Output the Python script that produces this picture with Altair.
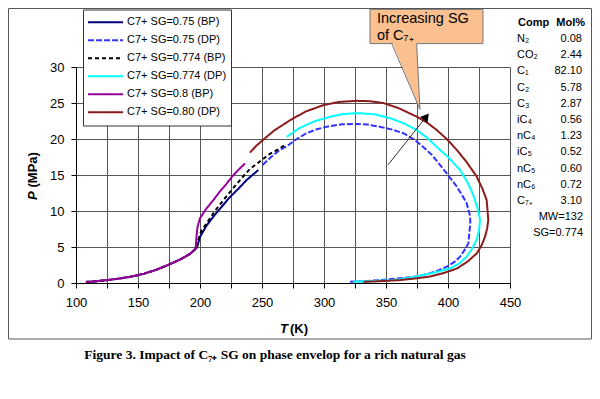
import altair as alt
import pandas as pd

FONT = "Liberation Sans"

# ---------------- data ----------------
series_names = ["C7+ SG=0.75 (BP)", "C7+ SG=0.75 (DP)", "C7+ SG=0.774 (BP)",
                "C7+ SG=0.774 (DP)", "C7+ SG=0.8 (BP)", "C7+ SG=0.80 (DP)"]
series_colors = ["#000080", "#3333FF", "#000000", "#00FFFF", "#990099", "#8C1C1C"]
series_dashes = [[1, 0], [6, 2], [4, 3], [1, 0], [1, 0], [1, 0]]

bp075_T = [108, 115, 125, 135, 145, 155, 165, 175, 185, 192, 197.5, 200, 205, 210.7, 217, 224, 231, 237.6, 243, 247]
bp075_P = [0.15, 0.22, 0.40, 0.62, 0.90, 1.30, 1.85, 2.55, 3.35, 4.05, 4.9, 6.4, 7.9, 9.2, 10.5, 11.9, 13.1, 14.3, 15.1, 15.7]

dp075_T = [250.5, 258, 264.5, 270, 278, 286, 295, 304.8, 315, 326.4, 335, 345, 355, 364, 372, 380, 387, 393.5, 400,
           407, 412, 415, 417.7, 418, 417.7, 416.4, 413, 409.7, 405, 399, 390, 380, 370, 361, 345, 335, 321]
dp075_P = [16.4, 17.6, 18.5, 19.0, 20.0, 20.8, 21.4, 21.8, 22.05, 22.1, 22.0, 21.7, 21.3, 20.8, 20.0, 18.9, 17.8, 16.4, 15.0,
           13.4, 12.0, 11.1, 9.4, 8.6, 7.8, 5.5, 4.5, 3.65, 2.9, 2.26, 1.6, 1.1, 0.8, 0.65, 0.4, 0.28, 0.18]

bp0774_T = [108, 115, 125, 135, 145, 155, 165, 175, 185, 192, 197.5, 198.6, 201, 205.4, 212, 218.8, 225, 232.3, 240, 248.4, 256, 264.5, 268.5]
bp0774_P = [0.15, 0.22, 0.40, 0.62, 0.90, 1.30, 1.85, 2.55, 3.35, 4.05, 4.9, 6.0, 7.2, 8.3, 10.0, 11.5, 12.8, 14.3, 15.8, 16.9, 17.9, 18.7, 19.2]

dp0774_T = [269.9, 280, 291.4, 305, 315, 326.4, 340, 353.2, 364, 374.8, 383, 390.9, 400, 409.7, 415, 419, 421.8, 424.5,
            425.8, 425, 423.1, 419.5, 415, 409, 401.6, 390, 380, 368, 355.9, 340, 323.6]
dp0774_P = [20.3, 21.5, 22.4, 23.1, 23.45, 23.6, 23.45, 22.9, 22.2, 21.25, 20.2, 18.9, 17.5, 15.7, 14.2, 12.8, 11.5, 10.0,
            8.75, 7.3, 6.0, 4.8, 3.65, 2.7, 2.0, 1.5, 1.1, 0.7, 0.4, 0.28, 0.18]

bp08_T = [108, 115, 125, 135, 145, 155, 165, 175, 185, 192, 196.5, 197.2, 198, 200, 205, 210.7, 216, 221.5, 226, 230.9, 236.3]
bp08_P = [0.15, 0.22, 0.40, 0.62, 0.90, 1.30, 1.85, 2.55, 3.35, 4.05, 4.8, 6.5, 7.8, 9.0, 10.3, 11.5, 12.7, 13.8, 14.8, 15.7, 16.6]

dp08_T = [240.3, 245, 251, 260, 272.6, 285, 299.4, 312, 326.4, 337, 347.8, 360, 374.8, 383, 390.9, 399, 407, 415, 423.1,
          428, 431.2, 432.5, 431.5, 429.8, 427, 423.1, 416, 407, 396, 385.5, 372, 361, 345, 331.7]
dp08_P = [18.1, 19.0, 19.9, 21.2, 22.6, 23.8, 24.7, 25.15, 25.3, 25.25, 25.0, 24.3, 23.1, 22.3, 21.25, 20.0, 18.5, 16.8, 14.8,
          13.0, 11.5, 8.75, 7.5, 6.4, 5.2, 4.1, 3.0, 2.0, 1.35, 0.9, 0.6, 0.4, 0.25, 0.15]

series_T = [bp075_T, dp075_T, bp0774_T, dp0774_T, bp08_T, dp08_T]
series_P = [bp075_P, dp075_P, bp0774_P, dp0774_P, bp08_P, dp08_P]

x_ticks = [100, 125, 150, 175, 200, 225, 250, 275, 300, 325, 350, 375, 400, 425, 450]
y_ticks = [0, 5, 10, 15, 20, 25, 30]

comp_names = ["N₂", "CO₂", "C₁", "C₂", "C₃", "iC₄", "nC₄", "iC₅", "nC₅", "nC₆", "C₇₊"]
comp_mol = [0.08, 2.44, 82.10, 5.78, 2.87, 0.56, 1.23, 0.52, 0.60, 0.72, 3.10]
comp_extra = ["MW=132", "SG=0.774"]

callout_lines = ["Increasing SG", "of C₇₊"]
callout_box_T = [337.1, 428.2]
callout_box_P = [33.25, 38.0]
pointer_P = [33.6, 24.1]
pointer_left_T = [354.6, 377.4]
pointer_right_T = [374.7, 377.4]
arrow_T = [351.6, 382.5]
arrow_P = [16.4, 23.1]

caption = "Figure 3. Impact of C₇₊ SG on phase envelop for a rich natural gas"

# ---------------- chart ----------------
rows = []
for name, Ts, Ps in zip(series_names, series_T, series_P):
    for i, (t, p) in enumerate(zip(Ts, Ps)):
        rows.append({"series": name, "T": t, "P": p, "idx": i})
df = pd.DataFrame(rows)

xs = alt.Scale(domain=[100, 450], nice=False, zero=False)
ys = alt.Scale(domain=[0, 30], nice=False, zero=False)

x_axis = alt.Axis(values=x_ticks, labelExpr="datum.value % 50 == 0 ? datum.label : ''",
                  title=None, grid=True, tickSize=5, labelPadding=8, labelFontSize=13,
                  labelFont=FONT, labelColor="black", domainColor="black", tickColor="black",
                  gridColor="#555", labelFlush=False, labelOverlap=False)
y_axis = alt.Axis(values=y_ticks, title=None, grid=True, tickSize=5, labelPadding=7,
                  labelFontSize=13, labelFont=FONT, labelColor="black", domainColor="black",
                  tickColor="black", gridColor="#555", labelFlush=False, labelOverlap=False)

X = alt.X("T:Q", scale=xs, axis=x_axis)
Y = alt.Y("P:Q", scale=ys, axis=y_axis)

legend = alt.Legend(title=None, orient="none", legendX=7, legendY=-57.5, symbolType="stroke",
                    symbolSize=1225, symbolStrokeWidth=2, labelFont=FONT, labelFontSize=11,
                    labelColor="black", padding=4, fillColor="white", strokeColor="#333",
                    clipHeight=17.6, rowPadding=0, labelOffset=3, labelLimit=250)

lines = alt.Chart(df).mark_line(strokeWidth=2, clip=False).encode(
    x=X, y=Y,
    color=alt.Color("series:N", scale=alt.Scale(domain=series_names, range=series_colors), legend=legend),
    strokeDash=alt.StrokeDash("series:N", scale=alt.Scale(domain=series_names, range=series_dashes), legend=legend),
    order="idx:Q",
)

# callout box + pointer
box_df = pd.DataFrame({"T": [callout_box_T[0]], "T2": [callout_box_T[1]],
                       "P": [callout_box_P[0]], "P2": [callout_box_P[1]]})
box = alt.Chart(box_df).mark_rect(fill="#FAC090", stroke="#777", strokeWidth=1).encode(
    x=X, x2="T2:Q", y=Y, y2="P2:Q")

ptr_df = pd.DataFrame({"P": pointer_P, "T": pointer_left_T, "T2": pointer_right_T})
ptr = alt.Chart(ptr_df).mark_area(orient="horizontal", fill="#FAC090").encode(
    y=Y, x=X, x2="T2:Q")

side_df = pd.DataFrame({
    "side": ["l", "l", "r", "r"],
    "T": [pointer_left_T[0], pointer_left_T[1], pointer_right_T[0], pointer_right_T[1]],
    "P": [callout_box_P[0], pointer_P[1], callout_box_P[0], pointer_P[1]],
})
sides = alt.Chart(side_df).mark_line(stroke="#777", strokeWidth=1).encode(
    x=X, y=Y, detail="side:N")

arrow_df = pd.DataFrame({"T": arrow_T, "P": arrow_P})
arrow = alt.Chart(arrow_df).mark_line(stroke="#333", strokeWidth=1).encode(x=X, y=Y)
head = alt.Chart(pd.DataFrame({"T": [arrow_T[1]], "P": [arrow_P[1]]})).mark_point(
    shape="triangle-up", filled=True, size=90, angle=37.7, color="black", opacity=1).encode(x=X, y=Y)


def txt(s, x, y, align="left", angle=0, style="normal", size=13, weight="bold", family=FONT):
    return alt.Chart(pd.DataFrame({"t": [s]})).mark_text(
        align=align, baseline="middle", font=family, fontSize=size, fontWeight=weight,
        fontStyle=style, angle=angle, color="black").encode(text="t:N", x=alt.value(x), y=alt.value(y))


texts = []
texts.append(txt(callout_lines[0], 301, -48.5, size=14.5, weight="normal"))
texts.append(txt(callout_lines[1], 301, -31.5, size=14.5, weight="normal"))

# composition table
ROW0 = -44.3
DY = 16.2
texts.append(txt("Comp", 442, ROW0, size=11))
texts.append(txt("Mol%", 509, ROW0, align="right", size=11))
for k, (nm, v) in enumerate(zip(comp_names, comp_mol), start=1):
    texts.append(txt(nm, 441, ROW0 + DY * k, size=11, weight="normal"))
    texts.append(txt(f"{v:.2f}", 506, ROW0 + DY * k, align="right", size=11, weight="normal"))
for k, s in enumerate(comp_extra, start=len(comp_names) + 1):
    texts.append(txt(s, 507, ROW0 + DY * k, align="right", size=11, weight="normal"))

# axis titles (mixed italic)
texts.append(txt("T", 204, 262, style="italic"))
texts.append(txt("(K)", 214, 262))
texts.append(txt("P", -42.7, 133, angle=270, style="italic"))
texts.append(txt("(MPa)", -42.7, 120.5, angle=270))
texts.append(txt(caption, 199, 288, align="center", size=13.5, family="Liberation Serif"))

frame = alt.Chart(pd.DataFrame({"a": [0]})).mark_rect(fillOpacity=0, stroke="#555", strokeWidth=1).encode(
    x=alt.value(-67.5), x2=alt.value(515.5), y=alt.value(-58.5), y2=alt.value(272))

chart = alt.layer(
    lines, box, ptr, sides, arrow, head, *texts, frame
).properties(
    width=434, height=216,
    autosize=alt.AutoSizeParams(type="none"),
    padding={"left": 68, "top": 59, "right": 82, "bottom": 108},
).configure_view(stroke="#555", strokeWidth=1).configure(background="white")

chart.save("out.html", embed_options={"renderer": "svg", "actions": False})
